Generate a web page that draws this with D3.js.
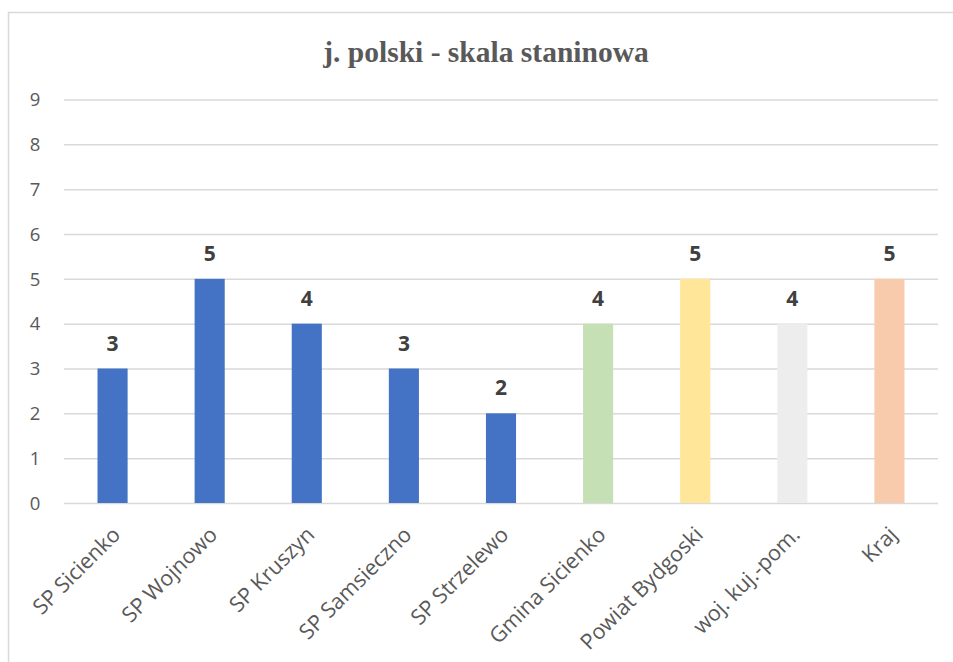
<!DOCTYPE html>
<html>
<head>
<meta charset="utf-8">
<script src="https://cdn.jsdelivr.net/npm/d3@7"></script>
<style>
  html, body { margin: 0; padding: 0; background: #fff; }
  svg { display: block; }
</style>
</head>
<body>
<svg id="chart" width="953" height="662"></svg>
<script>
// Stanine results for Polish language
const categories = ["SP Sicienko", "SP Wojnowo", "SP Kruszyn", "SP Samsieczno", "SP Strzelewo",
                    "Gmina Sicienko", "Powiat Bydgoski", "woj. kuj.-pom.", "Kraj"];
const values = [3, 5, 4, 3, 2, 4, 5, 4, 5];
const barColors = ["#4472C4", "#4472C4", "#4472C4", "#4472C4", "#4472C4",
                   "#C5E0B4", "#FFE699", "#EDEDED", "#F8CBAD"];
const yTicks = [0, 1, 2, 3, 4, 5, 6, 7, 8, 9];
const title = "j. polski - skala staninowa";

const svg = d3.select("#chart");
const W = 953, H = 662;
const plot = { left: 64, right: 938, top: 99.5, bottom: 503 };
const sans = "'Open Sans', sans-serif";

// chart area frame (top and left edges visible)
svg.append("rect")
  .attr("x", 8.5).attr("y", 12.5)
  .attr("width", W + 20).attr("height", H + 20)
  .attr("fill", "#fff").attr("stroke", "#D9D9D9").attr("stroke-width", 1.5);

const x = d3.scaleBand().domain(categories).range([plot.left, plot.right]).paddingInner(0.69).paddingOuter(0.345);
const y = d3.scaleLinear().domain([0, 9]).range([plot.bottom, plot.top]);

// gridlines and value axis labels
const yAxis = d3.axisLeft(y).tickValues(yTicks).tickSize(-(plot.right - plot.left)).tickPadding(22).tickFormat(d3.format("d"));
const gy = svg.append("g").attr("transform", `translate(${plot.left},0)`).call(yAxis);
gy.select(".domain").remove();
gy.selectAll(".tick line").attr("stroke", "#D9D9D9").attr("stroke-width", 1.5);
gy.selectAll(".tick text")
  .attr("fill", "#595959").attr("font-family", sans).attr("font-size", 18.5)
  .attr("text-anchor", "middle").attr("x", -29).attr("dy", "0.34em");

// bars
svg.append("g").selectAll("rect").data(values).join("rect")
  .attr("x", (d, i) => x(categories[i]))
  .attr("y", d => y(d))
  .attr("width", x.bandwidth())
  .attr("height", d => y(0) - y(d))
  .attr("fill", (d, i) => barColors[i]);

// value labels
svg.append("g").selectAll("text").data(values).join("text")
  .attr("x", (d, i) => x(categories[i]) + x.bandwidth() / 2)
  .attr("y", d => y(d) - 18)
  .attr("text-anchor", "middle")
  .attr("font-family", sans).attr("font-weight", "bold").attr("font-size", 21)
  .attr("fill", "#404040")
  .text(d => d);

// category labels, rotated
const xAxis = d3.axisBottom(x).tickSize(0).tickPadding(0);
const gx = svg.append("g").attr("transform", `translate(0,${plot.bottom})`).call(xAxis);
gx.select(".domain").remove();
gx.selectAll(".tick text")
  .attr("fill", "#595959").attr("font-family", sans).attr("font-size", 21.5)
  .attr("text-anchor", "end")
  .attr("dy", 0)
  .attr("transform", "translate(9,33) rotate(-45)");

// title
svg.append("text")
  .attr("x", 486).attr("y", 62)
  .attr("text-anchor", "middle")
  .attr("font-family", "'Liberation Serif', 'Times New Roman', serif")
  .attr("font-weight", "bold").attr("font-size", 29.5)
  .attr("fill", "#595959")
  .text(title);
</script>
</body>
</html>
